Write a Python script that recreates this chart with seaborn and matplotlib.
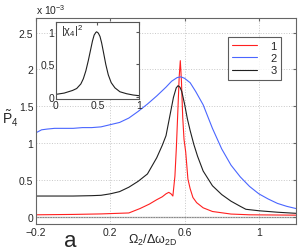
import matplotlib
matplotlib.use("Agg", force=True)
import matplotlib.pyplot as plt
import pandas as pd
import seaborn as sns

# main panel, values in units of 1e-3
x_red = [-0.2, 0.0, 0.15, 0.3, 0.36, 0.41, 0.45, 0.48, 0.5, 0.515, 0.527, 0.537, 0.548, 0.556,
         0.564, 0.571, 0.577, 0.583, 0.59, 0.597, 0.606, 0.618, 0.63, 0.645, 0.665, 0.7,
         0.75, 0.85, 0.95, 1.2]
y_red = [0.025, 0.03, 0.037, 0.05, 0.11, 0.17, 0.23, 0.27, 0.31, 0.33, 0.31, 0.28, 0.55, 0.95,
         1.45, 1.9, 2.12, 1.85, 1.35, 1.05, 0.88, 0.51, 0.38, 0.26, 0.19, 0.12,
         0.07, 0.035, 0.025, 0.02]

x_blue = [-0.2, -0.17, -0.14, -0.1, -0.05, 0.0, 0.05, 0.1, 0.15, 0.2, 0.25, 0.3, 0.35, 0.4,
          0.45, 0.5, 0.53, 0.56, 0.58, 0.6, 0.63, 0.66, 0.7, 0.75, 0.8, 0.85, 0.9, 0.95,
          1.0, 1.05, 1.1, 1.15, 1.2]
y_blue = [1.14, 1.18, 1.19, 1.20, 1.20, 1.20, 1.21, 1.21, 1.22, 1.25, 1.28, 1.34, 1.43, 1.53,
          1.64, 1.76, 1.84, 1.89, 1.90, 1.88, 1.82, 1.70, 1.52, 1.20, 0.92, 0.70, 0.54, 0.41,
          0.31, 0.24, 0.18, 0.14, 0.11]

x_black = [-0.2, -0.1, 0.0, 0.1, 0.15, 0.2, 0.25, 0.3, 0.35, 0.4, 0.45, 0.48, 0.5, 0.52,
           0.54, 0.555, 0.565, 0.575, 0.585, 0.6, 0.615, 0.63, 0.65, 0.67, 0.7, 0.75, 0.8,
           0.85, 0.9, 0.93, 1.0, 1.1, 1.2]
y_black = [0.28, 0.28, 0.28, 0.285, 0.29, 0.31, 0.34, 0.40, 0.48, 0.58, 0.80, 0.97, 1.10, 1.36,
           1.62, 1.75, 1.78, 1.76, 1.70, 1.53, 1.33, 1.17, 0.98, 0.82, 0.62, 0.42, 0.30,
           0.21, 0.14, 0.10, 0.08, 0.06, 0.045]

labels = ["1", "2", "3"]
colors = ["#ff2020", "#4a66ff", "#202020"]

# inset |chi_4|^2
x_inset = [0.0, 0.1, 0.2, 0.25, 0.3, 0.33, 0.36, 0.39, 0.42, 0.44, 0.46, 0.48, 0.49, 0.51,
           0.53, 0.55, 0.57, 0.6, 0.63, 0.665, 0.71, 0.77, 0.85, 0.93, 1.0]
y_inset = [0.04, 0.06, 0.10, 0.13, 0.20, 0.28, 0.40, 0.56, 0.74, 0.86, 0.95, 0.99, 1.0, 0.98,
           0.93, 0.83, 0.70, 0.50, 0.34, 0.22, 0.14, 0.08, 0.05, 0.03, 0.02]

sns.set_style("white")
plt.rcParams["font.family"] = ["Liberation Sans", "DejaVu Sans"]
plt.rcParams["mathtext.fontset"] = "custom"
plt.rcParams["mathtext.rm"] = "Liberation Sans"
plt.rcParams["mathtext.it"] = "Liberation Sans"
plt.rcParams["mathtext.bf"] = "Liberation Sans"

fig = plt.figure(figsize=(2.99, 2.53), dpi=100)
ax = fig.add_axes([0.1204, 0.1107, 0.8696, 0.8143])

curves = [(x_red, y_red), (x_blue, y_blue), (x_black, y_black)]
for (xs, ys), lab, col in zip(curves, labels, colors):
    df = pd.DataFrame({"x": xs, "y": ys})
    sns.lineplot(data=df, x="x", y="y", ax=ax, color=col, lw=0.8, label=lab, estimator=None)

ax.axhline(0, color="#888888", lw=0.9, zorder=0)
ax.set_xlim(-0.2, 1.2)
ax.set_ylim(-0.1, 2.7)
ax.set_xticks([-0.2, 0.2, 0.6, 1.0])
ax.set_xticklabels(["\u22120.2", "0.2", "0.6", "1"])
ax.set_yticks([0, 0.5, 1, 1.5, 2, 2.5])
ax.set_yticklabels(["0", "0.5", "1", "1.5", "2", "2.5"])
ax.tick_params(labelsize=7.5, direction="in", length=2, color="#666666", top=True, right=True, pad=2)
ax.grid(True, ls=":", color="#c8c8c8", lw=0.7)
for s in ax.spines.values():
    s.set_color("#666666")
    s.set_linewidth(0.8)
ax.set_xlabel("")
ax.set_ylabel("")

leg = ax.legend(loc="upper left", bbox_to_anchor=(0.738, 0.91), fontsize=8, frameon=True,
                fancybox=False, edgecolor="#333333", handlelength=2.2, handletextpad=1.2,
                borderpad=0.4, labelspacing=0.2, borderaxespad=0)
leg.get_frame().set_linewidth(0.8)
for h in leg.get_lines():
    h.set_linewidth(0.8)

fig.text(0.51, 0.05, r"$\Omega_2/\Delta\omega_{2D}$", fontsize=9, ha="center", va="center")
fig.text(0.235, 0.045, "a", fontsize=16, ha="center", va="center")
fig.text(0.035, 0.53, r"$\tilde{P}_4$", fontsize=10, ha="center", va="center")
fig.text(0.12, 0.96, r"x 10$^{-3}$", fontsize=7.5, ha="left", va="center")

ins = fig.add_axes([0.187, 0.605, 0.278, 0.304])
sns.lineplot(x=x_inset, y=y_inset, ax=ins, color="#202020", lw=0.8, estimator=None)
ins.set_xlim(0, 1)
ins.set_ylim(-0.03, 1.15)
ins.set_xticks([0, 0.5, 1])
ins.set_xticklabels(["0", "0.5", "1"])
ins.set_yticks([0, 0.5, 1])
ins.set_yticklabels(["0", "0.5", "1"])
ins.tick_params(labelsize=7.5, direction="in", length=2, color="#555555", top=True, right=True, pad=1)
for s in ins.spines.values():
    s.set_color("#555555")
    s.set_linewidth(0.8)
ins.text(0.06, 0.9, r"$|\chi_4|^2$", transform=ins.transAxes, fontsize=8, ha="left", va="center")

fig.savefig("out.png", dpi=100)
